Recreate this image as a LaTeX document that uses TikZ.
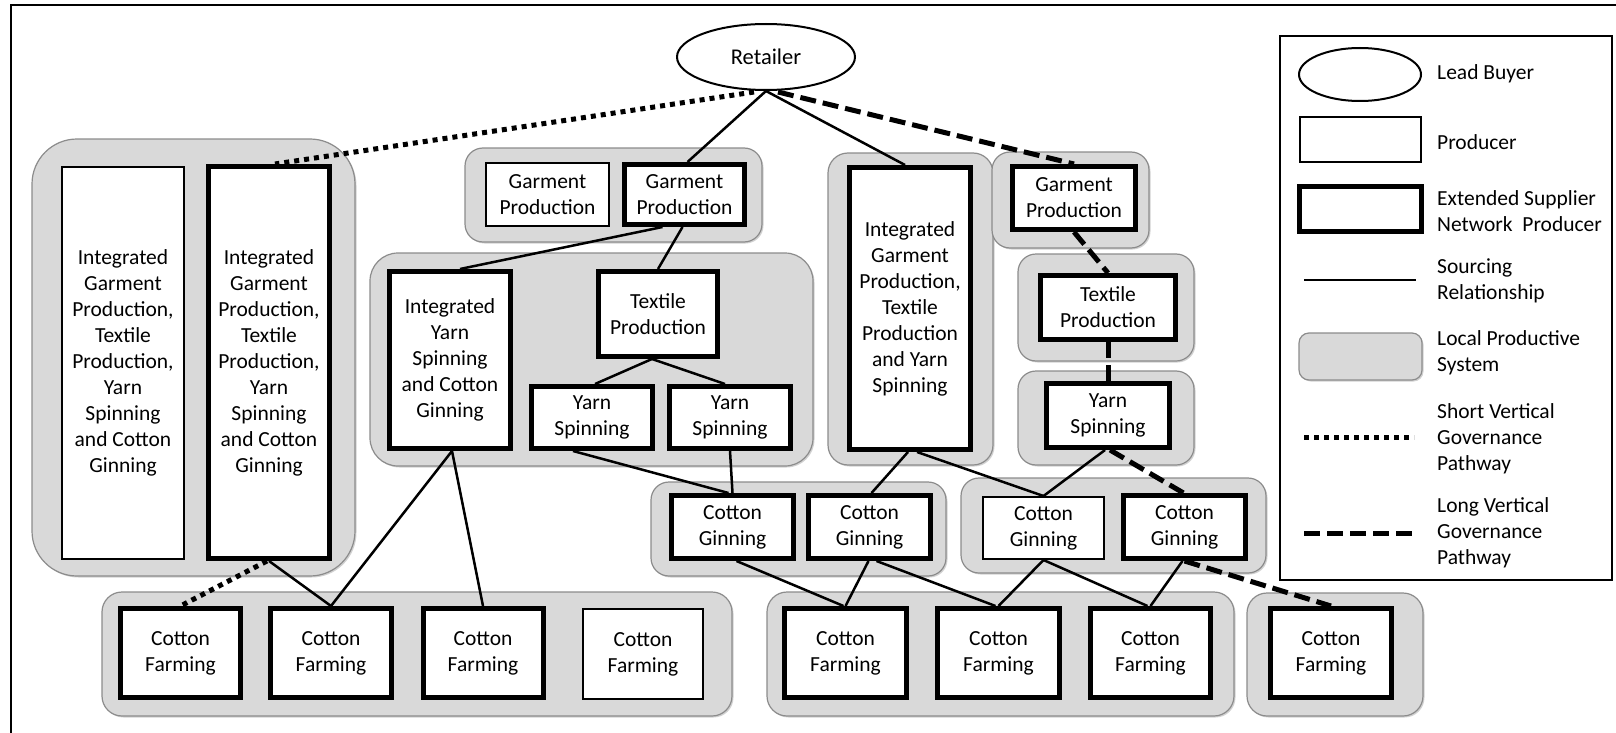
\documentclass[tikz,border=0pt]{standalone}
\usepackage{fontspec}
\setmainfont{Carlito}
\usetikzlibrary{calc,shapes.geometric,shadows}
\definecolor{lpsgray}{RGB}{217,217,217}
\definecolor{lpsedge}{RGB}{140,140,140}
\newcommand\dfont{\fontsize{21.5}{26}\selectfont}
\begin{document}
\begin{tikzpicture}[x=1pt,y=-1pt,
  lps/.style={fill=lpsgray, draw=lpsedge, line width=1.2pt,
    drop shadow={shadow xshift=1.5pt, shadow yshift=-1.5pt, fill=black, opacity=0.18}},
  prod/.style={draw, fill=white, line width=2pt, align=center, inner sep=0pt, font=\dfont},
  ext/.style={prod, line width=5pt},
  src/.style={line width=2.5pt},
  shortgov/.style={line width=5pt, dash pattern=on 5pt off 5pt},
  longgov/.style={line width=5pt, dash pattern=on 16pt off 7pt},
  legtxt/.style={anchor=west, align=left, inner sep=0pt, font=\dfont}]
\useasboundingbox (0,0) rectangle (1616,733);
\fill[white] (0,0) rectangle (1616,733);
% outer frame
\draw[line width=2pt] (11,5) rectangle (1640,750);

% local productive systems
\draw[lps, rounded corners=45pt] (32,139) rectangle (355,576);
\draw[lps, rounded corners=18pt] (465,148) rectangle (762,242);
\draw[lps, rounded corners=28pt] (370,253) rectangle (813,466);
\draw[lps, rounded corners=20pt] (828,153) rectangle (993,465);
\draw[lps, rounded corners=18pt] (992,152) rectangle (1149,248);
\draw[lps, rounded corners=18pt] (1018,254) rectangle (1194,361);
\draw[lps, rounded corners=18pt] (1018,371) rectangle (1194,465);
\draw[lps, rounded corners=18pt] (651,482) rectangle (946,576);
\draw[lps, rounded corners=18pt] (961,478) rectangle (1266,573);
\draw[lps, rounded corners=20pt] (102,592) rectangle (732,716);
\draw[lps, rounded corners=20pt] (767,592) rectangle (1234,716);
\draw[lps, rounded corners=20pt] (1247,593) rectangle (1423,716);

% lead buyer
\node[draw, ellipse, line width=2pt, minimum width=178pt, minimum height=66pt, inner sep=0pt, font=\fontsize{22.5}{26}\selectfont] (ret) at (766,57) {Retailer};

% producers
\node[prod, minimum width=122pt, minimum height=392pt] (A) at (123,363) {Integrated\\Garment\\Production,\\Textile\\Production,\\Yarn\\Spinning\\and Cotton\\Ginning};
\node[ext, minimum width=121pt, minimum height=392pt] (B) at (269,362.5) {Integrated\\Garment\\Production,\\Textile\\Production,\\Yarn\\Spinning\\and Cotton\\Ginning};
\node[prod, minimum width=123pt, minimum height=63pt] (gpA) at (547.5,194.5) {Garment\\Production};
\node[ext, minimum width=120pt, minimum height=60pt] (gpT) at (684.5,194.5) {Garment\\Production};
\node[ext, minimum width=121pt, minimum height=177pt] (iys) at (450,360) {Integrated\\Yarn\\Spinning\\and Cotton\\Ginning};
\node[ext, minimum width=119pt, minimum height=85pt] (tex) at (658,314) {Textile\\Production};
\node[ext, minimum width=121pt, minimum height=62pt] (ys1) at (592,417.5) {Yarn\\Spinning};
\node[ext, minimum width=121pt, minimum height=62pt] (ys2) at (730,417.5) {Yarn\\Spinning};
\node[ext, minimum width=121pt, minimum height=282pt] (tall) at (910,308.5) {Integrated\\Garment\\Production,\\Textile\\Production\\and Yarn\\Spinning};
\node[ext, minimum width=123pt, minimum height=63pt] (rgp) at (1074,198) {Garment\\Production};
\node[ext, minimum width=135pt, minimum height=64pt] (rtex) at (1108,307.5) {Textile\\Production};
\node[ext, minimum width=123pt, minimum height=64pt] (ryarn) at (1108,415.5) {Yarn\\Spinning};
\node[ext, minimum width=122pt, minimum height=63pt] (cg1) at (732.5,527) {Cotton\\Ginning};
\node[ext, minimum width=122pt, minimum height=63pt] (cg2) at (869.5,527) {Cotton\\Ginning};
\node[prod, minimum width=121pt, minimum height=62pt] (cgT) at (1043.5,528) {Cotton\\Ginning};
\node[ext, minimum width=122pt, minimum height=63pt] (cgR) at (1184.5,527) {Cotton\\Ginning};
\node[ext, minimum width=120pt, minimum height=89pt] (cf1) at (180.5,653) {Cotton\\Farming};
\node[ext, minimum width=121pt, minimum height=89pt] (cf2) at (331,653) {Cotton\\Farming};
\node[ext, minimum width=120pt, minimum height=89pt] (cf3) at (483,653) {Cotton\\Farming};
\node[prod, minimum width=120pt, minimum height=90pt] (cf4) at (643,654) {Cotton\\Farming};
\node[ext, minimum width=122pt, minimum height=89pt] (cf5) at (845.5,653) {Cotton\\Farming};
\node[ext, minimum width=122pt, minimum height=89pt] (cf6) at (998.5,653) {Cotton\\Farming};
\node[ext, minimum width=120pt, minimum height=89pt] (cf7) at (1150.5,653) {Cotton\\Farming};
\node[ext, minimum width=121pt, minimum height=89pt] (cf8) at (1331,653) {Cotton\\Farming};

% sourcing relationships
\draw[src] (ret.south) -- ($(gpT.north)+(3,0)$);
\draw[src] (ret.south) -- ($(tall.north)+(-5,0)$);
\draw[src] ($(gpT.south)+(-22,0)$) -- ($(iys.north)+(10,0)$);
\draw[src] ($(gpT.south)+(-2,0)$) -- (tex.north);
\draw[src] ($(tex.south)+(-6,0)$) -- ($(ys1.north)+(3,0)$);
\draw[src] ($(tex.south)+(-6,0)$) -- ($(ys2.north)+(-5,0)$);
\draw[src] ($(iys.south)+(2,0)$) -- (cf2.north);
\draw[src] ($(iys.south)+(2,0)$) -- (cf3.north);
\draw[src] (B.south) -- (cf2.north);
\draw[src] ($(ys1.south)+(-19,0)$) -- ($(cg1.north)+(-4,0)$);
\draw[src] (ys2.south) -- (cg1.north);
\draw[src] ($(tall.south)+(-2,0)$) -- ($(cg2.north)+(2,0)$);
\draw[src] ($(tall.south)+(7,0)$) -- (cgT.north);
\draw[src] ($(ryarn.south)+(-3,0)$) -- (cgT.north);
\draw[src] (cgT.south) -- (cf6.north);
\draw[src] (cgT.south) -- ($(cf7.north)+(-3,0)$);
\draw[src] ($(cg2.south)+(7,0)$) -- ($(cf6.north)+(-3,0)$);
\draw[src] ($(cg2.south)+(-1,0)$) -- (cf5.north);
\draw[src] ($(cg1.south)+(4,0)$) -- ($(cf5.north)+(-2,0)$);
\draw[src] ($(cgR.south)+(-2,0)$) -- (cf7.north);

% short vertical governance pathway
\draw[shortgov] ($(ret.south)+(-12,1)$) -- ($(B.north)+(6,0)$);
\draw[shortgov] ($(B.south)+(-2,0)$) -- (cf1.north);

% long vertical governance pathway
\draw[longgov] ($(ret.south)+(12,1)$) -- (rgp.north);
\draw[longgov] (rgp.south) -- (rtex.north);
\draw[longgov] (rtex.south) -- (ryarn.north);
\draw[longgov] ($(ryarn.south)+(2,0)$) -- ($(cgR.north)+(-1,0)$);
\draw[longgov] (cgR.south) -- (cf8.north);

% legend
\draw[line width=2pt] (1280,36) rectangle (1612,580);
\node[draw, ellipse, line width=2pt, minimum width=122pt, minimum height=53pt, inner sep=0pt] (lgEll) at (1360,74.5) {};
\node[prod, minimum width=121pt, minimum height=45pt] (lgProd) at (1360.5,139.5) {};
\node[ext, minimum width=122pt, minimum height=45pt] (lgExt) at (1360.5,209) {};
\coordinate (lgS1) at (1304,280);
\coordinate (lgS2) at (1416,280);
\draw[src] (lgS1) -- (lgS2);
\node[lps, rounded corners=10pt, minimum width=123pt, minimum height=47pt] (lgLps) at (1360.5,356.5) {};
\coordinate (lgD1) at (1304,437);
\coordinate (lgD2) at (1414,437);
\draw[shortgov] (lgD1) -- (lgD2);
\coordinate (lgL1) at (1304,533);
\coordinate (lgL2) at (1416,533);
\draw[longgov] (lgL1) -- (lgL2);

\node[legtxt] (t1) at (1437,74) {Lead Buyer};
\node[legtxt] (t2) at (1437,142) {Producer};
\node[legtxt] (t3) at (1437,211) {Extended Supplier\\Network\ \ Producer};
\node[legtxt] (t4) at (1437,281) {Sourcing\\Relationship};
\node[legtxt] (t5) at (1437,353) {Local Productive\\System};
\node[legtxt] (t6) at (1437,439) {Short Vertical\\Governance\\Pathway};
\node[legtxt] (t7) at (1437,533) {Long Vertical\\Governance\\Pathway};
\end{tikzpicture}
\end{document}
